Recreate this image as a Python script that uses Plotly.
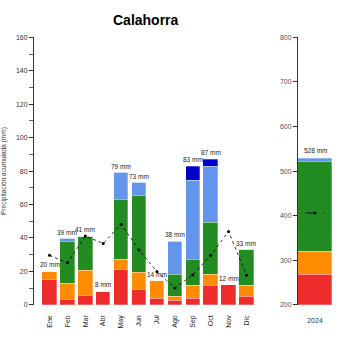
import plotly.graph_objects as go

months = ["Ene", "Feb", "Mar", "Abr", "May", "Jun", "Jul", "Ago", "Sep", "Oct", "Nov", "Dic"]
red = [15, 3.5, 5.5, 8, 21.5, 9.5, 4, 2.5, 4, 11.5, 12, 5]
orange = [5, 9.5, 15, 0, 6, 10, 10.5, 2.5, 7.5, 7, 0, 6.5]
green = [0, 25, 20.5, 0, 35.5, 46, 0, 13, 16, 31, 0, 21.5]
lblue = [0, 1.5, 0, 0, 16, 7.5, 0, 20, 47, 33.5, 0, 0]
dblue = [0, 0, 0, 0, 0, 0, 0, 0, 8.5, 4, 0, 0]
month_labels = ["20 mm", "39 mm", "41 mm", "8 mm", "79 mm", "73 mm", "14 mm", "38 mm", "83 mm", "87 mm", "12 mm", "33 mm"]
month_avg = [29.6, 25.2, 41.2, 36.7, 48.2, 32.8, 19.9, 10.1, 17.9, 29.6, 43.9, 17.7]

year = ["2024"]
year_red = [268]
year_orange = [53]
year_green = [202]
year_lblue = [5]
year_label = ["528 mm"]
year_avg = 406

colors = ["#EE2C2C", "#FF8C00", "#228B22", "#6495ED", "#0000CD"]
FONT = "Liberation Sans, Arial, sans-serif"
edge = dict(color="rgba(255,255,255,0.5)", width=0.6)

fig = go.Figure()
for vals, c in zip([red, orange, green, lblue, dblue], colors):
    fig.add_trace(go.Bar(x=list(range(12)), y=vals, marker=dict(color=c, line=edge),
                         width=0.81, xaxis="x", yaxis="y", showlegend=False))
fig.add_trace(go.Scatter(x=list(range(12)), y=month_avg, mode="lines+markers",
                         line=dict(color="black", width=0.8, dash="dot"), marker=dict(size=3, color="black"),
                         xaxis="x", yaxis="y", showlegend=False))

for vals, c in zip([year_red, year_orange, year_green, year_lblue], colors):
    fig.add_trace(go.Bar(x=[0], y=vals, marker=dict(color=c, line=edge),
                         width=1.0, xaxis="x2", yaxis="y2", showlegend=False))
fig.add_trace(go.Scatter(x=[-0.28, 0.28], y=[year_avg] * 2, mode="lines",
                         line=dict(color="black", width=0.8, dash="dash"),
                         xaxis="x2", yaxis="y2", showlegend=False))
fig.add_trace(go.Scatter(x=[0], y=[year_avg], mode="markers", marker=dict(size=3, color="black"),
                         xaxis="x2", yaxis="y2", showlegend=False))

tops = [r + o + g + l + d for r, o, g, l, d in zip(red, orange, green, lblue, dblue)]
annots = []
for i, (t, lab) in enumerate(zip(tops, month_labels)):
    annots.append(dict(x=i, y=t, xref="x", yref="y", text=lab, showarrow=False, yanchor="bottom",
                       yshift=1, font=dict(size=6.5, color="#222", family=FONT)))
ytot = year_red[0] + year_orange[0] + year_green[0] + year_lblue[0]
annots.append(dict(x=0, y=ytot, xref="x2", yref="y2", text=year_label[0], showarrow=False, yanchor="bottom",
                   yshift=3, font=dict(size=6.5, color="#222", family=FONT)))
annots.append(dict(text="<b>Calahorra</b>", x=146 / 350, y=1 - 16 / 350, xref="paper", yref="paper",
                   showarrow=False, font=dict(size=14, color="black", family=FONT), xanchor="center", yanchor="middle"))

ybot = 1 - 307 / 350
ytop = 1 - 34 / 350
fig.update_layout(
    width=350, height=350, margin=dict(l=0, r=0, t=0, b=0),
    paper_bgcolor="white", plot_bgcolor="white", barmode="stack", bargap=0,
    font=dict(family=FONT, size=7, color="#333"),
    xaxis=dict(domain=[34 / 350, 262 / 350], range=[-0.866, 11.866], tickmode="array",
               tickvals=list(range(12)), ticktext=months, tickangle=-90, showgrid=False, zeroline=False,
               showline=False, ticks="", ticklabelstandoff=8, tickfont=dict(size=7, color="#222")),
    yaxis=dict(domain=[ybot, ytop], range=[0, 160], dtick=20, showgrid=False, zeroline=False,
               showline=True, linecolor="#333", linewidth=1, ticks="outside", ticklen=4, tickcolor="#333",
               minor=dict(dtick=10, ticks="outside", ticklen=4, tickcolor="#666"),
               tickfont=dict(size=7, color="#333"),
               title=dict(text="Precipitación acumulada (mm)", font=dict(size=6.5, color="#333"), standoff=9)),
    xaxis2=dict(domain=[298 / 350, 332 / 350], range=[-0.5, 0.5], tickmode="array", tickvals=[0], ticktext=year,
                showgrid=False, zeroline=False, showline=False, ticks="", ticklabelstandoff=10,
                tickfont=dict(size=7, color="#333")),
    yaxis2=dict(domain=[ybot, ytop], anchor="x2", range=[200, 800], dtick=100, showgrid=False, zeroline=False,
                showline=True, linecolor="#333", linewidth=1, ticks="outside", ticklen=4, tickcolor="#333",
                tickfont=dict(size=7, color="#555")),
    annotations=annots,
)
fig.write_html("out.html")
